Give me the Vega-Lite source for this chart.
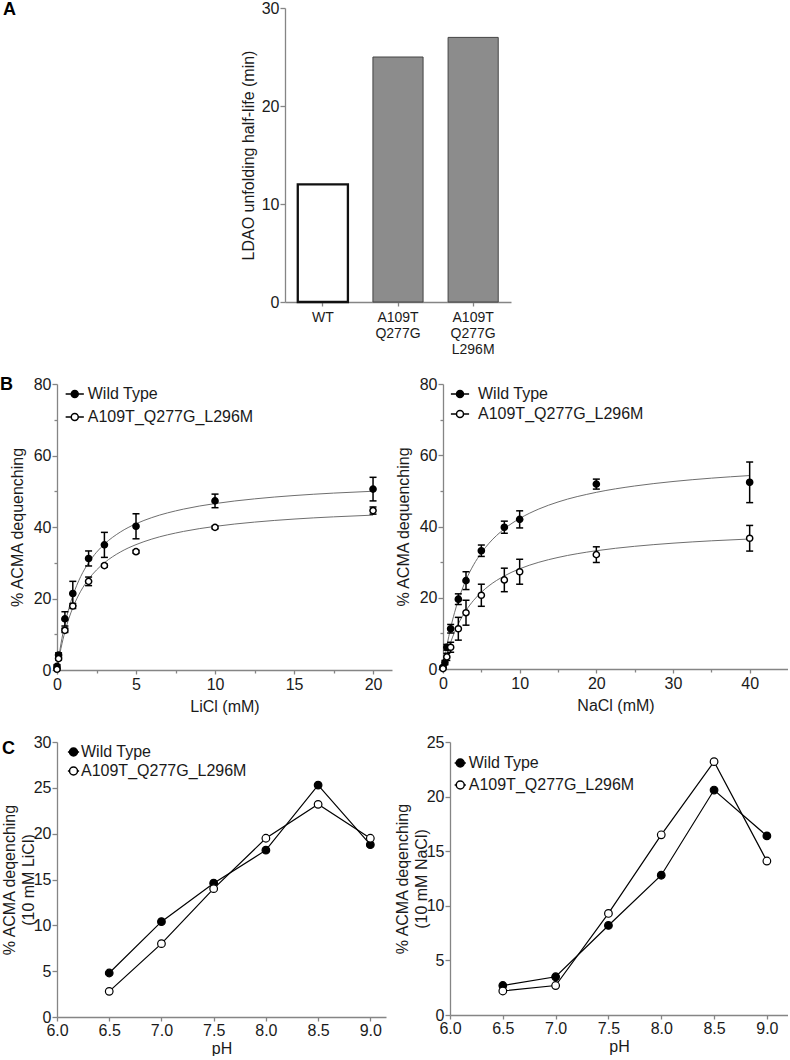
{
  "$schema": "https://vega.github.io/schema/vega-lite/v6.json",
  "padding": 0,
  "background": "white",
  "config": {
    "font": "Liberation Sans",
    "view": {"stroke": null},
    "axis": {"labelFont": "Liberation Sans", "titleFont": "Liberation Sans", "labelFontSize": 16, "titleFontSize": 16, "titleFontWeight": "normal", "labelColor": "#1a1a1a", "titleColor": "#1a1a1a", "domainColor": "#858585", "tickColor": "#858585", "domainWidth": 1.3, "tickWidth": 1.3, "grid": false, "labelPadding": 1, "tickSize": 5, "labelFlush": false, "labelOverlap": false},
    "legend": {"labelFont": "Liberation Sans", "labelFontSize": 16, "labelColor": "#1a1a1a", "padding": 0, "symbolStrokeColor": "#000000", "symbolStrokeWidth": 1.5, "labelLimit": 400},
    "title": {"font": "Liberation Sans", "fontSize": 18, "fontWeight": "bold", "anchor": "start", "frame": "group", "color": "#000000", "offset": 0}
  },
  "datasets": {
    "bar": [
      {"name": "WT", "value": 12},
      {"name": "A109T Q277G", "value": 25},
      {"name": "A109T Q277G L296M", "value": 27}
    ],
    "licl": [
      {"series": "Wild Type", "conc": 0, "pct": 1.0, "lo": 0.5, "hi": 1.5},
      {"series": "Wild Type", "conc": 0.1, "pct": 4.2, "lo": 3.6, "hi": 4.8},
      {"series": "Wild Type", "conc": 0.5, "pct": 14.3, "lo": 12.3, "hi": 16.3},
      {"series": "Wild Type", "conc": 1, "pct": 21.4, "lo": 18.0, "hi": 24.8},
      {"series": "Wild Type", "conc": 2, "pct": 31.2, "lo": 29.1, "hi": 33.3},
      {"series": "Wild Type", "conc": 3, "pct": 35.0, "lo": 31.5, "hi": 38.5},
      {"series": "Wild Type", "conc": 5, "pct": 40.2, "lo": 36.7, "hi": 43.7},
      {"series": "Wild Type", "conc": 10, "pct": 47.3, "lo": 45.4, "hi": 49.2},
      {"series": "Wild Type", "conc": 20, "pct": 50.6, "lo": 47.3, "hi": 53.9},
      {"series": "A109T_Q277G_L296M", "conc": 0, "pct": 0.2, "lo": 0, "hi": 0.4},
      {"series": "A109T_Q277G_L296M", "conc": 0.1, "pct": 3.2, "lo": 2.8, "hi": 3.6},
      {"series": "A109T_Q277G_L296M", "conc": 0.5, "pct": 11.1, "lo": 10.5, "hi": 11.7},
      {"series": "A109T_Q277G_L296M", "conc": 1, "pct": 17.9, "lo": 17.2, "hi": 18.6},
      {"series": "A109T_Q277G_L296M", "conc": 2, "pct": 24.8, "lo": 23.6, "hi": 26.0},
      {"series": "A109T_Q277G_L296M", "conc": 3, "pct": 29.2, "lo": 28.8, "hi": 29.6},
      {"series": "A109T_Q277G_L296M", "conc": 5, "pct": 33.1, "lo": 32.7, "hi": 33.5},
      {"series": "A109T_Q277G_L296M", "conc": 10, "pct": 39.9, "lo": 39.5, "hi": 40.3},
      {"series": "A109T_Q277G_L296M", "conc": 20, "pct": 44.6, "lo": 43.6, "hi": 45.6}
    ],
    "licl_fit": [
      {"series": "Wild Type", "conc": 0, "pct": 0},
      {"series": "Wild Type", "conc": 0.25, "pct": 7.3},
      {"series": "Wild Type", "conc": 0.5, "pct": 12.86},
      {"series": "Wild Type", "conc": 0.75, "pct": 17.23},
      {"series": "Wild Type", "conc": 1, "pct": 20.77},
      {"series": "Wild Type", "conc": 1.5, "pct": 26.13},
      {"series": "Wild Type", "conc": 2, "pct": 30.0},
      {"series": "Wild Type", "conc": 2.5, "pct": 32.93},
      {"series": "Wild Type", "conc": 3, "pct": 35.22},
      {"series": "Wild Type", "conc": 4, "pct": 38.57},
      {"series": "Wild Type", "conc": 5, "pct": 40.91},
      {"series": "Wild Type", "conc": 6, "pct": 42.63},
      {"series": "Wild Type", "conc": 8, "pct": 45.0},
      {"series": "Wild Type", "conc": 10, "pct": 46.55},
      {"series": "Wild Type", "conc": 12.5, "pct": 47.87},
      {"series": "Wild Type", "conc": 15, "pct": 48.8},
      {"series": "Wild Type", "conc": 17.5, "pct": 49.48},
      {"series": "Wild Type", "conc": 20, "pct": 50.0},
      {"series": "A109T_Q277G_L296M", "conc": 0, "pct": 0},
      {"series": "A109T_Q277G_L296M", "conc": 0.25, "pct": 6.03},
      {"series": "A109T_Q277G_L296M", "conc": 0.5, "pct": 10.68},
      {"series": "A109T_Q277G_L296M", "conc": 0.75, "pct": 14.39},
      {"series": "A109T_Q277G_L296M", "conc": 1, "pct": 17.41},
      {"series": "A109T_Q277G_L296M", "conc": 1.5, "pct": 22.03},
      {"series": "A109T_Q277G_L296M", "conc": 2, "pct": 25.41},
      {"series": "A109T_Q277G_L296M", "conc": 2.5, "pct": 27.98},
      {"series": "A109T_Q277G_L296M", "conc": 3, "pct": 30.0},
      {"series": "A109T_Q277G_L296M", "conc": 4, "pct": 32.98},
      {"series": "A109T_Q277G_L296M", "conc": 5, "pct": 35.07},
      {"series": "A109T_Q277G_L296M", "conc": 6, "pct": 36.62},
      {"series": "A109T_Q277G_L296M", "conc": 8, "pct": 38.76},
      {"series": "A109T_Q277G_L296M", "conc": 10, "pct": 40.17},
      {"series": "A109T_Q277G_L296M", "conc": 12.5, "pct": 41.37},
      {"series": "A109T_Q277G_L296M", "conc": 15, "pct": 42.22},
      {"series": "A109T_Q277G_L296M", "conc": 17.5, "pct": 42.84},
      {"series": "A109T_Q277G_L296M", "conc": 20, "pct": 43.32}
    ],
    "nacl": [
      {"series": "Wild Type", "conc": 0, "pct": 0.5, "lo": 0.2, "hi": 0.8},
      {"series": "Wild Type", "conc": 0.25, "pct": 1.8, "lo": 1.2, "hi": 2.4},
      {"series": "Wild Type", "conc": 0.5, "pct": 6.1, "lo": 5.3, "hi": 6.9},
      {"series": "Wild Type", "conc": 1, "pct": 11.3, "lo": 10.1, "hi": 12.5},
      {"series": "Wild Type", "conc": 2, "pct": 19.6, "lo": 18.1, "hi": 21.1},
      {"series": "Wild Type", "conc": 3, "pct": 24.8, "lo": 22.3, "hi": 27.3},
      {"series": "Wild Type", "conc": 5, "pct": 33.2, "lo": 31.6, "hi": 34.8},
      {"series": "Wild Type", "conc": 8, "pct": 39.8, "lo": 38.1, "hi": 41.5},
      {"series": "Wild Type", "conc": 10, "pct": 42.0, "lo": 39.6, "hi": 44.4},
      {"series": "Wild Type", "conc": 20, "pct": 51.9, "lo": 50.5, "hi": 53.3},
      {"series": "Wild Type", "conc": 40, "pct": 52.4, "lo": 46.7, "hi": 58.1},
      {"series": "A109T_Q277G_L296M", "conc": 0, "pct": 0.1, "lo": 0, "hi": 0.3},
      {"series": "A109T_Q277G_L296M", "conc": 0.5, "pct": 3.4, "lo": 2.4, "hi": 4.4},
      {"series": "A109T_Q277G_L296M", "conc": 1, "pct": 6.1, "lo": 4.7, "hi": 7.5},
      {"series": "A109T_Q277G_L296M", "conc": 2, "pct": 11.3, "lo": 8.1, "hi": 14.5},
      {"series": "A109T_Q277G_L296M", "conc": 3, "pct": 15.8, "lo": 12.3, "hi": 19.3},
      {"series": "A109T_Q277G_L296M", "conc": 5, "pct": 20.7, "lo": 17.6, "hi": 23.8},
      {"series": "A109T_Q277G_L296M", "conc": 8, "pct": 25.0, "lo": 21.7, "hi": 28.3},
      {"series": "A109T_Q277G_L296M", "conc": 10, "pct": 27.3, "lo": 23.8, "hi": 30.8},
      {"series": "A109T_Q277G_L296M", "conc": 20, "pct": 32.1, "lo": 29.9, "hi": 34.3},
      {"series": "A109T_Q277G_L296M", "conc": 40, "pct": 36.7, "lo": 33.1, "hi": 40.3}
    ],
    "nacl_fit": [
      {"series": "Wild Type", "conc": 0, "pct": 0},
      {"series": "Wild Type", "conc": 0.5, "pct": 6.38},
      {"series": "Wild Type", "conc": 1, "pct": 11.54},
      {"series": "Wild Type", "conc": 1.5, "pct": 15.79},
      {"series": "Wild Type", "conc": 2, "pct": 19.35},
      {"series": "Wild Type", "conc": 3, "pct": 25.0},
      {"series": "Wild Type", "conc": 4, "pct": 29.27},
      {"series": "Wild Type", "conc": 5, "pct": 32.61},
      {"series": "Wild Type", "conc": 6, "pct": 35.29},
      {"series": "Wild Type", "conc": 8, "pct": 39.34},
      {"series": "Wild Type", "conc": 10, "pct": 42.25},
      {"series": "Wild Type", "conc": 12.5, "pct": 44.91},
      {"series": "Wild Type", "conc": 15, "pct": 46.88},
      {"series": "Wild Type", "conc": 20, "pct": 49.59},
      {"series": "Wild Type", "conc": 25, "pct": 51.37},
      {"series": "Wild Type", "conc": 30, "pct": 52.63},
      {"series": "Wild Type", "conc": 35, "pct": 53.57},
      {"series": "Wild Type", "conc": 40, "pct": 54.3},
      {"series": "A109T_Q277G_L296M", "conc": 0, "pct": 0},
      {"series": "A109T_Q277G_L296M", "conc": 0.5, "pct": 4.13},
      {"series": "A109T_Q277G_L296M", "conc": 1, "pct": 7.5},
      {"series": "A109T_Q277G_L296M", "conc": 1.5, "pct": 10.3},
      {"series": "A109T_Q277G_L296M", "conc": 2, "pct": 12.66},
      {"series": "A109T_Q277G_L296M", "conc": 3, "pct": 16.42},
      {"series": "A109T_Q277G_L296M", "conc": 4, "pct": 19.29},
      {"series": "A109T_Q277G_L296M", "conc": 5, "pct": 21.54},
      {"series": "A109T_Q277G_L296M", "conc": 6, "pct": 23.37},
      {"series": "A109T_Q277G_L296M", "conc": 8, "pct": 26.13},
      {"series": "A109T_Q277G_L296M", "conc": 10, "pct": 28.13},
      {"series": "A109T_Q277G_L296M", "conc": 12.5, "pct": 29.96},
      {"series": "A109T_Q277G_L296M", "conc": 15, "pct": 31.31},
      {"series": "A109T_Q277G_L296M", "conc": 20, "pct": 33.2},
      {"series": "A109T_Q277G_L296M", "conc": 25, "pct": 34.44},
      {"series": "A109T_Q277G_L296M", "conc": 30, "pct": 35.32},
      {"series": "A109T_Q277G_L296M", "conc": 35, "pct": 35.98},
      {"series": "A109T_Q277G_L296M", "conc": 40, "pct": 36.49}
    ],
    "ph_li": [
      {"series": "Wild Type", "ph": 6.5, "pct": 4.8},
      {"series": "Wild Type", "ph": 7.0, "pct": 10.4},
      {"series": "Wild Type", "ph": 7.5, "pct": 14.6},
      {"series": "Wild Type", "ph": 8.0, "pct": 18.2},
      {"series": "Wild Type", "ph": 8.5, "pct": 25.3},
      {"series": "Wild Type", "ph": 9.0, "pct": 18.8},
      {"series": "A109T_Q277G_L296M", "ph": 6.5, "pct": 2.8},
      {"series": "A109T_Q277G_L296M", "ph": 7.0, "pct": 8.0},
      {"series": "A109T_Q277G_L296M", "ph": 7.5, "pct": 14.0},
      {"series": "A109T_Q277G_L296M", "ph": 8.0, "pct": 19.5},
      {"series": "A109T_Q277G_L296M", "ph": 8.5, "pct": 23.2},
      {"series": "A109T_Q277G_L296M", "ph": 9.0, "pct": 19.5}
    ],
    "ph_na": [
      {"series": "Wild Type", "ph": 6.5, "pct": 2.7},
      {"series": "Wild Type", "ph": 7.0, "pct": 3.5},
      {"series": "Wild Type", "ph": 7.5, "pct": 8.2},
      {"series": "Wild Type", "ph": 8.0, "pct": 12.8},
      {"series": "Wild Type", "ph": 8.5, "pct": 20.6},
      {"series": "Wild Type", "ph": 9.0, "pct": 16.4},
      {"series": "A109T_Q277G_L296M", "ph": 6.5, "pct": 2.2},
      {"series": "A109T_Q277G_L296M", "ph": 7.0, "pct": 2.7},
      {"series": "A109T_Q277G_L296M", "ph": 7.5, "pct": 9.3},
      {"series": "A109T_Q277G_L296M", "ph": 8.0, "pct": 16.5},
      {"series": "A109T_Q277G_L296M", "ph": 8.5, "pct": 23.2},
      {"series": "A109T_Q277G_L296M", "ph": 9.0, "pct": 14.1}
    ]
  },
  "spacing": 20,
  "resolve": {"scale": {"x": "independent", "y": "independent", "fill": "independent"}, "legend": {"fill": "independent"}},
  "vconcat": [
    {
      "spacing": 9,
      "hconcat": [
        {
          "width": 174,
          "height": 294,
          "title": {"text": "A", "dx": -54, "dy": 15},
          "data": {"values": []},
          "mark": "point"
        },
        {
          "width": 226,
          "height": 294,
          "data": {"name": "bar"},
          "mark": {"type": "bar"},
          "encoding": {
            "x": {"field": "name", "type": "nominal", "sort": ["WT", "A109T Q277G", "A109T Q277G L296M"], "scale": {"paddingInner": 0.333, "paddingOuter": 0.17}, "axis": {"title": null, "labelAngle": 0, "labelExpr": "split(datum.label, ' ')", "labelLineHeight": 16, "labelFontSize": 14, "tickSize": 4, "labelPadding": 4}},
            "y": {"field": "value", "type": "quantitative", "scale": {"domain": [0, 30], "nice": false}, "axis": {"values": [0, 10, 20, 30], "title": "LDAO unfolding half-life (min)", "titlePadding": 5}},
            "fill": {"condition": {"test": "datum.name === 'WT'", "value": "#ffffff"}, "value": "#8c8c8c"},
            "stroke": {"condition": {"test": "datum.name === 'WT'", "value": "#111111"}, "value": "#444444"},
            "strokeWidth": {"condition": {"test": "datum.name === 'WT'", "value": 2.3}, "value": 1}
          }
        }
      ]
    },
    {
      "spacing": 3,
      "resolve": {"scale": {"x": "independent", "y": "independent", "fill": "independent"}, "legend": {"fill": "independent"}},
      "hconcat": [
        {
          "width": 335,
          "height": 286,
          "title": {"text": "B", "dx": -57, "dy": 22},
          "layer": [
            {
              "data": {"name": "licl_fit"},
              "mark": {"type": "line", "color": "#6e6e6e", "strokeWidth": 1, "interpolate": "monotone"},
              "encoding": {
                "x": {"field": "conc", "type": "quantitative", "scale": {"domain": [0, 21.2], "nice": false, "zero": false}, "axis": {"values": [2.5, 7.5, 12.5, 17.5], "labels": false, "domain": false, "tickSize": 3, "title": null, "orient": "bottom"}},
                "y": {"field": "pct", "type": "quantitative", "scale": {"domain": [0, 80], "nice": false}, "axis": {"values": [10, 30, 50, 70], "labels": false, "domain": false, "tickSize": 3, "title": null, "orient": "left"}},
                "detail": {"field": "series"}
              }
            },
            {
              "data": {"name": "licl"},
              "mark": {"type": "rule", "color": "#000000", "strokeWidth": 1.5},
              "encoding": {
                "x": {"field": "conc", "type": "quantitative", "axis": null},
                "y": {"field": "lo", "type": "quantitative", "axis": null},
                "y2": {"field": "hi"}
              }
            },
            {
              "data": {"name": "licl"},
              "mark": {"type": "tick", "orient": "horizontal", "color": "#000000", "size": 7, "thickness": 1.5, "opacity": 1},
              "encoding": {
                "x": {"field": "conc", "type": "quantitative", "axis": null},
                "y": {"field": "lo", "type": "quantitative", "axis": null}
              }
            },
            {
              "data": {"name": "licl"},
              "mark": {"type": "tick", "orient": "horizontal", "color": "#000000", "size": 7, "thickness": 1.5, "opacity": 1},
              "encoding": {
                "x": {"field": "conc", "type": "quantitative", "axis": null},
                "y": {"field": "hi", "type": "quantitative", "axis": null}
              }
            },
            {
              "data": {"name": "licl"},
              "mark": {"type": "point", "shape": "circle", "filled": true, "size": 38, "stroke": "#000000", "strokeWidth": 1.5, "opacity": 1},
              "encoding": {
                "x": {"field": "conc", "type": "quantitative", "axis": {"values": [0, 5, 10, 15, 20], "title": "LiCl (mM)", "orient": "bottom", "tickSize": 4, "labelPadding": 2, "titlePadding": 6}},
                "y": {"field": "pct", "type": "quantitative", "axis": {"values": [0, 20, 40, 60, 80], "title": "% ACMA dequenching", "orient": "left", "titlePadding": 8}},
                "fill": {"field": "series", "type": "nominal", "scale": {"domain": ["Wild Type", "A109T_Q277G_L296M"], "range": ["#000000", "#ffffff"]}, "legend": {"title": null, "orient": "top-left", "offset": 2, "symbolType": "M-2.6,0H-1M1,0H2.6M-1,0A1,1,0,1,1,1,0A1,1,0,1,1,-1,0Z", "symbolSize": 49, "symbolOffset": 7.75, "labelOffset": 5, "rowPadding": 7}}
              }
            }
          ],
          "resolve": {"axis": {"x": "independent", "y": "independent"}}
        },
        {
          "width": 345,
          "height": 285,
          "layer": [
            {
              "data": {"name": "nacl_fit"},
              "mark": {"type": "line", "color": "#6e6e6e", "strokeWidth": 1, "interpolate": "monotone"},
              "encoding": {
                "x": {"field": "conc", "type": "quantitative", "scale": {"domain": [0, 45], "nice": false, "zero": false}, "axis": {"values": [5, 15, 25, 35], "labels": false, "domain": false, "tickSize": 3, "title": null, "orient": "bottom"}},
                "y": {"field": "pct", "type": "quantitative", "scale": {"domain": [0, 80], "nice": false}, "axis": {"values": [10, 30, 50, 70], "labels": false, "domain": false, "tickSize": 3, "title": null, "orient": "left"}},
                "detail": {"field": "series"}
              }
            },
            {
              "data": {"name": "nacl"},
              "mark": {"type": "rule", "color": "#000000", "strokeWidth": 1.5},
              "encoding": {
                "x": {"field": "conc", "type": "quantitative", "axis": null},
                "y": {"field": "lo", "type": "quantitative", "axis": null},
                "y2": {"field": "hi"}
              }
            },
            {
              "data": {"name": "nacl"},
              "mark": {"type": "tick", "orient": "horizontal", "color": "#000000", "size": 7, "thickness": 1.5, "opacity": 1},
              "encoding": {
                "x": {"field": "conc", "type": "quantitative", "axis": null},
                "y": {"field": "lo", "type": "quantitative", "axis": null}
              }
            },
            {
              "data": {"name": "nacl"},
              "mark": {"type": "tick", "orient": "horizontal", "color": "#000000", "size": 7, "thickness": 1.5, "opacity": 1},
              "encoding": {
                "x": {"field": "conc", "type": "quantitative", "axis": null},
                "y": {"field": "hi", "type": "quantitative", "axis": null}
              }
            },
            {
              "data": {"name": "nacl"},
              "mark": {"type": "point", "shape": "circle", "filled": true, "size": 38, "stroke": "#000000", "strokeWidth": 1.5, "opacity": 1},
              "encoding": {
                "x": {"field": "conc", "type": "quantitative", "axis": {"values": [0, 10, 20, 30, 40], "title": "NaCl (mM)", "orient": "bottom", "tickSize": 4, "labelPadding": 2, "titlePadding": 6}},
                "y": {"field": "pct", "type": "quantitative", "axis": {"values": [0, 20, 40, 60, 80], "title": "% ACMA dequenching", "orient": "left", "titlePadding": 8}},
                "fill": {"field": "series", "type": "nominal", "scale": {"domain": ["Wild Type", "A109T_Q277G_L296M"], "range": ["#000000", "#ffffff"]}, "legend": {"title": null, "orient": "top-left", "offset": 2, "symbolType": "M-2.6,0H-1M1,0H2.6M-1,0A1,1,0,1,1,1,0A1,1,0,1,1,-1,0Z", "symbolSize": 49, "symbolOffset": 7, "labelOffset": 10, "rowPadding": 4}}
              }
            }
          ],
          "resolve": {"axis": {"x": "independent", "y": "independent"}}
        }
      ]
    },
    {
      "spacing": 8,
      "resolve": {"scale": {"x": "independent", "y": "independent", "fill": "independent"}, "legend": {"fill": "independent"}},
      "hconcat": [
        {
          "width": 329,
          "height": 275,
          "title": {"text": "C", "dx": -55, "dy": 28},
          "data": {"name": "ph_li"},
          "encoding": {
            "x": {"field": "ph", "type": "quantitative", "scale": {"domain": [6, 9.15], "nice": false, "zero": false}, "axis": {"values": [6, 6.5, 7, 7.5, 8, 8.5, 9], "format": ".1f", "title": "pH", "tickSize": 4, "labelPadding": 1, "titlePadding": 2}},
            "y": {"field": "pct", "type": "quantitative", "scale": {"domain": [0, 30], "nice": false}, "axis": {"values": [0, 5, 10, 15, 20, 25, 30], "title": ["% ACMA deqenching", "(10 mM LiCl)"], "titlePadding": -3, "titleLineHeight": 19}}
          },
          "layer": [
            {"mark": {"type": "line", "color": "#000000", "strokeWidth": 1.2}, "encoding": {"detail": {"field": "series"}}},
            {
              "mark": {"type": "point", "shape": "circle", "filled": true, "size": 58, "stroke": "#000000", "strokeWidth": 1.2, "opacity": 1},
              "encoding": {
                "fill": {"field": "series", "type": "nominal", "scale": {"domain": ["Wild Type", "A109T_Q277G_L296M"], "range": ["#000000", "#ffffff"]}, "legend": {"title": null, "orient": "top-left", "offset": 2, "symbolType": "M-1.4,0H-1M1,0H1.4M-1,0A1,1,0,1,1,1,0A1,1,0,1,1,-1,0Z", "symbolSize": 64, "symbolOffset": 6.5, "labelOffset": -0.5, "rowPadding": 3}}
              }
            }
          ]
        },
        {
          "width": 338,
          "height": 273,
          "data": {"name": "ph_na"},
          "encoding": {
            "x": {"field": "ph", "type": "quantitative", "scale": {"domain": [6, 9.2], "nice": false, "zero": false}, "axis": {"values": [6, 6.5, 7, 7.5, 8, 8.5, 9], "format": ".1f", "title": "pH", "tickSize": 4, "labelPadding": 1, "titlePadding": 2}},
            "y": {"field": "pct", "type": "quantitative", "scale": {"domain": [0, 25], "nice": false}, "axis": {"values": [0, 5, 10, 15, 20, 25], "title": ["% ACMA deqenching", "(10 mM NaCl)"], "titlePadding": -3, "titleLineHeight": 19}}
          },
          "layer": [
            {"mark": {"type": "line", "color": "#000000", "strokeWidth": 1.2}, "encoding": {"detail": {"field": "series"}}},
            {
              "mark": {"type": "point", "shape": "circle", "filled": true, "size": 58, "stroke": "#000000", "strokeWidth": 1.2, "opacity": 1},
              "encoding": {
                "fill": {"field": "series", "type": "nominal", "scale": {"domain": ["Wild Type", "A109T_Q277G_L296M"], "range": ["#000000", "#ffffff"]}, "legend": {"title": null, "orient": "top-left", "offset": 13, "symbolType": "M-1.4,0H-1M1,0H1.4M-1,0A1,1,0,1,1,1,0A1,1,0,1,1,-1,0Z", "symbolSize": 64, "symbolOffset": -10.75, "labelOffset": 0.5, "rowPadding": 6}}
              }
            }
          ]
        }
      ]
    }
  ]
}
